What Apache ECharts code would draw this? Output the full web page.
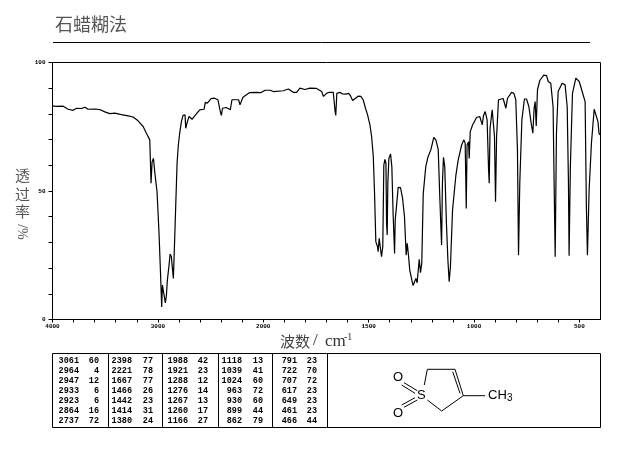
<!DOCTYPE html>
<html><head><meta charset="utf-8">
<style>html,body{margin:0;padding:0;background:#fff}#c{width:624px;height:454px}</style>
<script src="https://cdn.jsdelivr.net/npm/echarts@6/dist/echarts.min.js"></script>
</head><body><div id="c"></div>
<script>
const wavenumbers=[4000,3962,3899,3851,3804,3772,3725,3693,3662,3599,3551,3504,3456,3409,3346,3283,3235,3188,3140,3109,3077,3065,3055,3042,3030,3008,2989,2976,2964,2957,2941,2929,2919,2910,2894,2884,2872,2862,2853,2843,2831,2818,2806,2793,2777,2761,2742,2736,2720,2704,2676,2635,2603,2562,2550,2531,2493,2462,2430,2411,2398,2386,2351,2313,2297,2234,2221,2193,2129,2066,2019,1992,1968,1953,1905,1881,1858,1842,1826,1802,1779,1747,1723,1714,1700,1687,1668,1662,1659,1656,1651,1637,1624,1608,1595,1586,1576,1564,1550,1537,1526,1515,1505,1494,1486,1478,1472,1466,1458,1455,1450,1445,1439,1433,1428,1423,1418,1415,1412,1409,1404,1396,1390,1384,1377,1374,1368,1360,1349,1339,1330,1322,1317,1311,1305,1295,1289,1282,1276,1270,1260,1254,1248,1241,1229,1219,1205,1191,1181,1170,1162,1154,1150,1145,1139,1131,1124,1118,1112,1102,1086,1075,1059,1048,1042,1037,1033,1026,1023,1018,1007,988,973,961,955,947,938,931,928,924,914,909,903,898,893,884,862,854,849,841,822,811,802,794,789,783,773,761,751,740,729,721,715,710,705,699,688,669,656,648,636,625,620,615,609,601,582,568,558,552,549,543,533,517,501,487,473,467,462,454,443,430,422,412,407,402];
const transmittance=[83.1,82.9,83,81.8,81.4,82.2,82.1,82.6,81.8,81.9,81.7,80.8,80.1,80.3,79.7,79.2,78.8,77.3,75.1,72.5,69.9,53,61.4,62.7,57.5,49.7,33.5,19.2,4.9,13.4,14,6.5,9.5,15.3,21.2,25.5,24.4,19.9,16,28.3,43.9,60.8,67.9,72.5,77,79.4,79.6,74.4,77,79,77.9,80,81.6,81.8,84.5,84.2,86,86.1,85.5,81.6,79.4,82.2,82.5,81.6,85.5,85.5,83.5,86.5,88.3,88.4,88.3,89.2,89.2,88.7,89,89.7,88.4,88.4,90,89.5,90,89.9,88.7,86.8,88,88.4,88.4,88,80.9,79.4,88,88.4,87.8,87.7,88,87,85.2,86,86.9,86.8,85.5,82.2,79.6,75.7,71.2,63.4,49.1,30.3,28.3,26.4,31.6,28.3,24.4,28.3,60.1,62.3,60.8,37.4,32.9,53,62.7,64.4,59.5,41.3,25.7,38.7,43.9,51.4,51.3,47.1,40,25,29.6,25,19.2,15.3,13.2,13.6,16,14.3,23.4,18.2,21.8,49,59.5,63.1,66,70.9,69.9,66.2,46.5,29,53,63.1,59.5,37.4,23.1,14.7,20.5,42.6,56.2,62.1,67.9,69.9,68.6,43.2,67.9,69.2,62.7,73.1,75.7,78.6,79,75.7,79.4,80.9,77.7,58.2,53,74.4,81.6,81.8,71.2,45.8,71.2,85.5,86,85.5,82.2,86.1,88.4,88,85.5,66,25,53,77.7,85.8,85.8,82.9,76.4,72.5,82.2,84.8,75.3,89.4,93,95.1,94.9,92.6,91.9,82.9,53,24.4,72.5,88.7,91.9,91.3,82.9,53,24.8,59.5,88,93.9,92.6,88.7,84.8,43.9,25,50.4,68.6,81.8,81.8,77,72.5,71.8];
const xTickLabels=[4000,3000,2000,1500,1000,500];
const yTickLabels=[0,50,100];
const peakWave=[
 [3061,2964,2947,2933,2923,2864,2737],
 [2398,2221,1667,1466,1442,1414,1380],
 [1988,1921,1288,1276,1267,1260,1166],
 [1118,1039,1024,963,930,899,862],
 [791,722,707,617,649,461,466]];
const peakT=[
 [60,4,12,6,6,16,72],
 [77,78,77,26,23,31,24],
 [42,23,12,14,13,17,27],
 [13,41,60,72,60,44,79],
 [23,70,72,23,23,23,44]];
const title="石蜡糊法";

// The instrument's abscissa doubles its scale below 2000 cm-1.
const toPos=w=>w>=2000?(4000-w)/2:1000+(2000-w);
const toWave=p=>p<=1000?4000-2*p:2000-(p-1000);

const mono='"Liberation Mono","DejaVu Sans Mono",monospace';
const cjk='"Noto Sans CJK SC","Noto Sans",sans-serif';
const serif='"Liberation Serif",serif';
const g=[];
const line=(x1,y1,x2,y2,lw)=>g.push({type:'line',silent:true,shape:{x1,y1,x2,y2},style:{stroke:'#000',lineWidth:lw||1}});
const text=(x,y,t,o)=>g.push({type:'text',silent:true,x,y,style:Object.assign({text:t,fill:'#000',font:'9px '+mono,textVerticalAlign:'middle'},o||{})});

// Title and rule
text(55,24,title,{font:'18px '+cjk,fill:'#555'});
line(53,42.5,590,42.5);
// Axis titles
text(280,341,'波数',{font:'15px '+cjk,fill:'#444'});
text(313,341,'/',{font:'17px '+serif,fill:'#333'});
text(325,342,'cm',{font:'17px '+serif,fill:'#333'});
text(344,337.5,'-1',{font:'10px '+serif,fill:'#333'});
[['透',175.5],['过',194.5],['率',211]].forEach(a=>text(15,a[1],a[0],{font:'15px '+cjk,fill:'#555'}));
g.push({type:'text',silent:true,x:22,y:232,rotation:-Math.PI/2,style:{text:'/%',font:'14px '+serif,fill:'#555',textAlign:'center',textVerticalAlign:'middle'}});

// Peak table
g.push({type:'rect',silent:true,shape:{x:52.5,y:353.5,width:548,height:74},style:{fill:'none',stroke:'#000',lineWidth:1}});
[108.5,162.5,218.5,272.5,327.5].forEach(x=>line(x,353.5,x,427.5));
const waveRight=[79,132,188,242,297], tRight=[99,153,208,263,317];
peakWave.forEach((col,c)=>col.forEach((w,r)=>{
  const y=361+r*10;
  text(waveRight[c],y,String(w),{textAlign:'right',font:'bold 8.5px '+mono});
  text(tRight[c],y,String(peakT[c][r]),{textAlign:'right',font:'bold 8.5px '+mono});
}));

// Structure
line(424.3,385,427.3,369.3);line(427.3,369.3,455,369.3);
line(455,369.3,463.3,395.7);line(452.7,371.7,460,393.3);
line(463.3,395.7,441.7,411);line(441.7,411,427.3,400);line(463.3,395.7,485,395.7);
line(401.7,385,415,393.3);line(404,382.7,417.3,390.7);
line(401.7,405,415,397.7);line(404,407.3,417.3,400);
const chem='13px "Liberation Sans",sans-serif';
text(417,395.5,'S',{font:chem});
text(393,377,'O',{font:chem});
text(393,413.5,'O',{font:chem});
text(488,395.5,'CH',{font:chem});
text(507,398,'3',{font:'10px "Liberation Sans",sans-serif'});

const chart=echarts.init(document.getElementById('c'),null,{renderer:'canvas'});
chart.setOption({
  animation:false,
  backgroundColor:'#fff',
  grid:{left:52.5,top:62.5,width:548,height:257,show:true,borderColor:'#000',borderWidth:1,backgroundColor:'transparent'},
  xAxis:{type:'value',min:0,max:2600,interval:100,
    axisLine:{show:true,lineStyle:{color:'#000',width:1}},
    axisTick:{show:true,length:3,inside:false,lineStyle:{color:'#000'}},
    splitLine:{show:false},
    axisLabel:{margin:4,color:'#000',fontFamily:mono,fontSize:6,fontWeight:'bold',hideOverlap:false,showMinLabel:true,showMaxLabel:false,
      formatter:v=>{const w=toWave(v);return xTickLabels.includes(w)?String(w):'';}}},
  yAxis:{type:'value',min:0,max:100,interval:10,
    axisLine:{show:true,lineStyle:{color:'#000',width:1}},
    axisTick:{show:true,length:4,lineStyle:{color:'#000'}},
    splitLine:{show:false},
    axisLabel:{margin:7,color:'#000',fontFamily:mono,fontSize:6,fontWeight:'bold',
      formatter:v=>yTickLabels.includes(v)?String(v):''}},
  series:[{type:'line',showSymbol:false,smooth:false,silent:true,
    lineStyle:{color:'#000',width:1.2},
    data:wavenumbers.map((w,i)=>[toPos(w),transmittance[i]])}],
  graphic:g
});
</script></body></html>
